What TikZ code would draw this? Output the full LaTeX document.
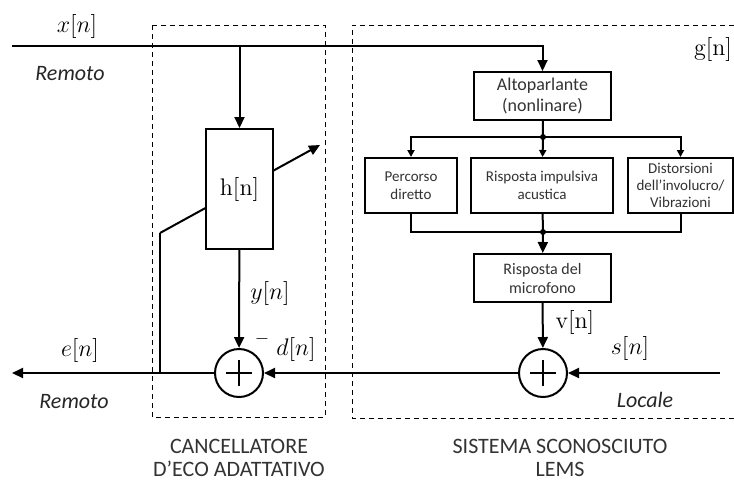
\documentclass[tikz,border=0pt]{standalone}
\usepackage{fontspec}
\setsansfont{Carlito}
\usetikzlibrary{calc, positioning}
\usetikzlibrary{arrows.meta}

\begin{document}
\begin{tikzpicture}[x=0.5pt,y=-0.5pt,line width=1pt,
  arr/.style={-{Triangle[length=5.5pt,width=5pt]}},
  sarr/.style={-{Triangle[length=3.5pt,width=3.5pt]}},
  blk/.style={draw,fill=white,line width=1pt,inner sep=0.5pt,align=center,
    font=\sffamily\fontsize{9}{10.5}\selectfont,text=black!80},
  sblk/.style={blk,font=\sffamily\fontsize{7.5}{9}\selectfont},
  sumnode/.style={draw,circle,fill=white,minimum size=24pt,inner sep=0pt,
    path picture={\draw[line width=1pt]
      ([xshift=-6.5pt]path picture bounding box.center) -- ([xshift=6.5pt]path picture bounding box.center)
      ([yshift=-6.5pt]path picture bounding box.center) -- ([yshift=6.5pt]path picture bounding box.center);}},
  sig/.style={font=\fontsize{12}{14}\selectfont},
  sidetxt/.style={font=\sffamily\itshape\fontsize{11}{13}\selectfont,text=black!85},
  boxtitle/.style={font=\sffamily\fontsize{11}{11.5}\selectfont,align=center,text=black!80,inner sep=0pt},
  dashbox/.style={line width=0.5pt,dash pattern=on 2.5pt off 2pt}]
\useasboundingbox (0,0) rectangle (734,479);

\coordinate (xin) at (12,46);
\coordinate (eout) at (12,373);
\coordinate (sin) at (720,373);
\coordinate (adbase) at (160,373);
\coordinate (adknee) at (160,233);
\coordinate (adtip) at (320,145);
\coordinate (split) at (543,137);
\coordinate (merge) at (543,232);

% adaptive filter update
\draw (adbase) -- (adknee);
\draw[arr] (adknee) -- (adtip);

\draw[dashbox] (152,25) rectangle (325,417);
\draw[dashbox] (734,25) -- (352,25) -- (352,418) -- (734,418);

\node[blk,minimum width=33.5pt,minimum height=60pt,font=\fontsize{12}{14}\selectfont,text=black] (h) at (239.5,189) {$\mathrm{h}[\mathrm{n}]$};
\node[blk,minimum width=68.5pt,minimum height=24pt] (alto) at (542.5,96) {Altoparlante\\(nonlinare)};
\node[sblk,minimum width=46pt,minimum height=27.5pt] (perc) at (411,185.5) {Percorso\\diretto};
\node[sblk,minimum width=71pt,minimum height=27.5pt] (risp) at (542,185.5) {Risposta impulsiva\\acustica};
\node[sblk,minimum width=52.5pt,minimum height=27.5pt,font=\sffamily\fontsize{7.5}{8.6}\selectfont] (dist) at (680.5,185.5) {Distorsioni\\dell’involucro/\\Vibrazioni};
\node[blk,minimum width=68.5pt,minimum height=24pt,font=\sffamily\fontsize{8}{9.5}\selectfont] (mic) at (542.5,278) {Risposta del\\microfono};
\node[sumnode] (sumL) at (239,373) {};
\node[sumnode] (sumR) at (543,373) {};

\draw[arr] (xin) -| (alto.north);
\draw[arr] (h.north |- xin) -- (h.north);
\draw (alto) -- (split);
\draw[sarr] (split) -| (perc);
\draw[sarr] (split) -- (risp);
\draw[sarr] (split) -| (dist);
\draw (perc) |- (merge);
\draw (dist) |- (merge);
\draw (risp) -- (merge);
\fill (split) circle (1.5pt);
\fill (merge) circle (1.5pt);
\draw[arr] (merge) -- (mic);
\draw[arr] (mic) -- (sumR);
\draw[arr] (sin) -- (sumR);
\draw[arr] (sumR) -- (sumL);
\draw[arr] (h) -- (sumL);
\draw[arr] (sumL) -- (eout);

\node[sig] (xlbl) at (77,26) {$x[n]$};
\node[sidetxt] (remA) at (70,74) {Remoto};
\node[sidetxt] (remB) at (74,402) {Remoto};
\node[sig] (elbl) at (80,350) {$e[n]$};
\node[sig] (ylbl) at (270,293) {$y[n]$};
\node[font=\fontsize{9}{10}\selectfont] (minus) at (262,339) {$-$};
\node[sig] (dlbl) at (296,349) {$d[n]$};
\node[sig] (vlbl) at (575,322) {$\mathrm{v}[\mathrm{n}]$};
\node[sig] (slbl) at (630,348) {$s[n]$};
\node[sidetxt] (loc) at (645,400) {Locale};
\node[sig] (glbl) at (713,49) {$\mathrm{g}[\mathrm{n}]$};
\node[boxtitle] (aecT) at (239,458) {CANCELLATORE\\D’ECO ADATTATIVO};
\node[boxtitle] (lemsT) at (560,458) {SISTEMA SCONOSCIUTO\\LEMS};
\end{tikzpicture}
\end{document}
